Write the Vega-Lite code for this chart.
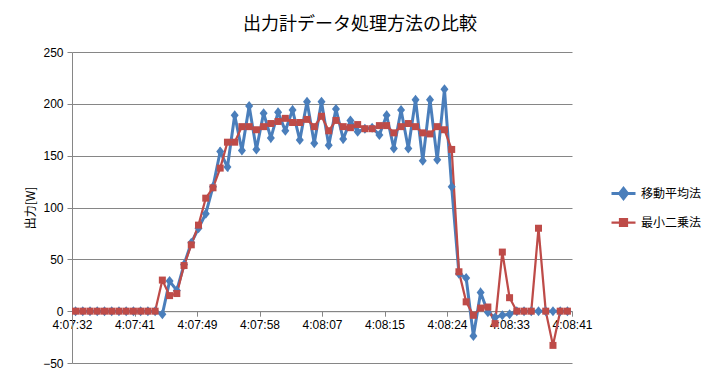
{
  "$schema": "https://vega.github.io/schema/vega-lite/v6.json",
  "width": 500,
  "height": 311,
  "autosize": "none",
  "padding": {"left": 72, "top": 52, "right": 149, "bottom": 17},
  "background": "white",
  "title": {"text": "出力計データ処理方法の比較", "font": "Noto Sans CJK JP", "fontSize": 18, "fontWeight": "normal", "color": "#000000", "anchor": "middle", "dx": 38, "offset": 12},
  "config": {
    "view": {"stroke": null},
    "axis": {"labelFont": "Liberation Sans", "labelFontSize": 12, "labelColor": "#000000", "domainColor": "#868686", "tickColor": "#868686", "gridColor": "#868686", "gridWidth": 1, "domainWidth": 1, "tickWidth": 1}
  },
  "data": {"values": [
    {"t": "2012-01-01T04:07:32.650", "移動平均法": 0, "最小二乗法": 0},
    {"t": "2012-01-01T04:07:33.650", "移動平均法": 0, "最小二乗法": 0},
    {"t": "2012-01-01T04:07:34.650", "移動平均法": 0, "最小二乗法": 0},
    {"t": "2012-01-01T04:07:35.650", "移動平均法": 0, "最小二乗法": 0},
    {"t": "2012-01-01T04:07:36.650", "移動平均法": 0, "最小二乗法": 0},
    {"t": "2012-01-01T04:07:37.650", "移動平均法": 0, "最小二乗法": 0},
    {"t": "2012-01-01T04:07:38.650", "移動平均法": 0, "最小二乗法": 0},
    {"t": "2012-01-01T04:07:39.650", "移動平均法": 0, "最小二乗法": 0},
    {"t": "2012-01-01T04:07:40.650", "移動平均法": 0, "最小二乗法": 0},
    {"t": "2012-01-01T04:07:41.650", "移動平均法": 0, "最小二乗法": 0},
    {"t": "2012-01-01T04:07:42.650", "移動平均法": 0, "最小二乗法": 0},
    {"t": "2012-01-01T04:07:43.650", "移動平均法": 0, "最小二乗法": 0},
    {"t": "2012-01-01T04:07:44.650", "移動平均法": -3, "最小二乗法": 30},
    {"t": "2012-01-01T04:07:45.650", "移動平均法": 29, "最小二乗法": 15},
    {"t": "2012-01-01T04:07:46.650", "移動平均法": 20, "最小二乗法": 17},
    {"t": "2012-01-01T04:07:47.650", "移動平均法": 45, "最小二乗法": 44},
    {"t": "2012-01-01T04:07:48.650", "移動平均法": 66, "最小二乗法": 64},
    {"t": "2012-01-01T04:07:49.650", "移動平均法": 80, "最小二乗法": 83},
    {"t": "2012-01-01T04:07:50.650", "移動平均法": 94, "最小二乗法": 109},
    {"t": "2012-01-01T04:07:51.650", "移動平均法": 120, "最小二乗法": 119},
    {"t": "2012-01-01T04:07:52.650", "移動平均法": 154, "最小二乗法": 138},
    {"t": "2012-01-01T04:07:53.650", "移動平均法": 139, "最小二乗法": 163},
    {"t": "2012-01-01T04:07:54.650", "移動平均法": 189, "最小二乗法": 163},
    {"t": "2012-01-01T04:07:55.650", "移動平均法": 155, "最小二乗法": 178},
    {"t": "2012-01-01T04:07:56.650", "移動平均法": 198, "最小二乗法": 178},
    {"t": "2012-01-01T04:07:57.650", "移動平均法": 156, "最小二乗法": 175},
    {"t": "2012-01-01T04:07:58.650", "移動平均法": 191, "最小二乗法": 178},
    {"t": "2012-01-01T04:07:59.650", "移動平均法": 167, "最小二乗法": 181},
    {"t": "2012-01-01T04:08:00.650", "移動平均法": 192, "最小二乗法": 183},
    {"t": "2012-01-01T04:08:01.650", "移動平均法": 174, "最小二乗法": 186},
    {"t": "2012-01-01T04:08:02.650", "移動平均法": 194, "最小二乗法": 182},
    {"t": "2012-01-01T04:08:03.650", "移動平均法": 165, "最小二乗法": 182},
    {"t": "2012-01-01T04:08:04.650", "移動平均法": 202, "最小二乗法": 185},
    {"t": "2012-01-01T04:08:05.650", "移動平均法": 162, "最小二乗法": 178},
    {"t": "2012-01-01T04:08:06.650", "移動平均法": 202, "最小二乗法": 188},
    {"t": "2012-01-01T04:08:07.650", "移動平均法": 160, "最小二乗法": 174},
    {"t": "2012-01-01T04:08:08.650", "移動平均法": 195, "最小二乗法": 184},
    {"t": "2012-01-01T04:08:09.650", "移動平均法": 166, "最小二乗法": 178},
    {"t": "2012-01-01T04:08:10.650", "移動平均法": 184, "最小二乗法": 177},
    {"t": "2012-01-01T04:08:11.650", "移動平均法": 173, "最小二乗法": 180},
    {"t": "2012-01-01T04:08:12.650", "移動平均法": 176, "最小二乗法": 176},
    {"t": "2012-01-01T04:08:13.650", "移動平均法": 177, "最小二乗法": 176},
    {"t": "2012-01-01T04:08:14.650", "移動平均法": 170, "最小二乗法": 179},
    {"t": "2012-01-01T04:08:15.650", "移動平均法": 189, "最小二乗法": 179},
    {"t": "2012-01-01T04:08:16.650", "移動平均法": 157, "最小二乗法": 172},
    {"t": "2012-01-01T04:08:17.650", "移動平均法": 194, "最小二乗法": 178},
    {"t": "2012-01-01T04:08:18.650", "移動平均法": 157, "最小二乗法": 181},
    {"t": "2012-01-01T04:08:19.650", "移動平均法": 204, "最小二乗法": 178},
    {"t": "2012-01-01T04:08:20.650", "移動平均法": 145, "最小二乗法": 172},
    {"t": "2012-01-01T04:08:21.650", "移動平均法": 204, "最小二乗法": 171},
    {"t": "2012-01-01T04:08:22.650", "移動平均法": 146, "最小二乗法": 178},
    {"t": "2012-01-01T04:08:23.650", "移動平均法": 214, "最小二乗法": 175},
    {"t": "2012-01-01T04:08:24.650", "移動平均法": 120, "最小二乗法": 156},
    {"t": "2012-01-01T04:08:25.650", "移動平均法": 36, "最小二乗法": 38},
    {"t": "2012-01-01T04:08:26.650", "移動平均法": 32, "最小二乗法": 9},
    {"t": "2012-01-01T04:08:27.650", "移動平均法": -24, "最小二乗法": -4},
    {"t": "2012-01-01T04:08:28.650", "移動平均法": 18, "最小二乗法": 3},
    {"t": "2012-01-01T04:08:29.650", "移動平均法": -1, "最小二乗法": 4},
    {"t": "2012-01-01T04:08:30.650", "移動平均法": -6, "最小二乗法": -12},
    {"t": "2012-01-01T04:08:31.650", "移動平均法": -4, "最小二乗法": 57},
    {"t": "2012-01-01T04:08:32.650", "移動平均法": -3, "最小二乗法": 13},
    {"t": "2012-01-01T04:08:33.650", "移動平均法": 0, "最小二乗法": 0},
    {"t": "2012-01-01T04:08:34.650", "移動平均法": 0, "最小二乗法": 0},
    {"t": "2012-01-01T04:08:35.650", "移動平均法": 0, "最小二乗法": 0},
    {"t": "2012-01-01T04:08:36.650", "移動平均法": 0, "最小二乗法": 80},
    {"t": "2012-01-01T04:08:37.650", "移動平均法": 0, "最小二乗法": 0},
    {"t": "2012-01-01T04:08:38.650", "移動平均法": 0, "最小二乗法": -33},
    {"t": "2012-01-01T04:08:39.650", "移動平均法": 0, "最小二乗法": 0},
    {"t": "2012-01-01T04:08:40.650", "移動平均法": 0, "最小二乗法": 0}
  ]},
  "transform": [{"fold": ["移動平均法", "最小二乗法"], "as": ["method", "power"]}],
  "encoding": {
    "x": {
      "field": "t", "type": "temporal", "title": null,
      "scale": {"domain": [
        {"year": 2012, "month": 1, "date": 1, "hours": 4, "minutes": 7, "seconds": 32, "milliseconds": 160},
        {"year": 2012, "month": 1, "date": 1, "hours": 4, "minutes": 8, "seconds": 41, "milliseconds": 280}
      ], "nice": false},
      "axis": {
        "values": [
          {"year": 2012, "month": 1, "date": 1, "hours": 4, "minutes": 7, "seconds": 32, "milliseconds": 160},
          {"year": 2012, "month": 1, "date": 1, "hours": 4, "minutes": 7, "seconds": 40, "milliseconds": 800},
          {"year": 2012, "month": 1, "date": 1, "hours": 4, "minutes": 7, "seconds": 49, "milliseconds": 440},
          {"year": 2012, "month": 1, "date": 1, "hours": 4, "minutes": 7, "seconds": 58, "milliseconds": 80},
          {"year": 2012, "month": 1, "date": 1, "hours": 4, "minutes": 8, "seconds": 6, "milliseconds": 720},
          {"year": 2012, "month": 1, "date": 1, "hours": 4, "minutes": 8, "seconds": 15, "milliseconds": 360},
          {"year": 2012, "month": 1, "date": 1, "hours": 4, "minutes": 8, "seconds": 24, "milliseconds": 0},
          {"year": 2012, "month": 1, "date": 1, "hours": 4, "minutes": 8, "seconds": 32, "milliseconds": 640},
          {"year": 2012, "month": 1, "date": 1, "hours": 4, "minutes": 8, "seconds": 41, "milliseconds": 280}
        ],
        "labelExpr": "timeFormat(time(datum.value) + 500, '%-H:%M:%S')",
        "offset": -51.8, "grid": false, "tickSize": 5, "labelPadding": 3, "labelOverlap": false, "labelFlush": false
      }
    },
    "y": {
      "field": "power", "type": "quantitative", "title": "出力[W]",
      "scale": {"domain": [-50, 250], "nice": false, "zero": false},
      "axis": {"values": [-50, 0, 50, 100, 150, 200, 250], "grid": true, "tickSize": 5, "labelPadding": 4, "titleFont": "Noto Sans CJK JP", "titleFontSize": 12, "titleFontWeight": "normal", "titleColor": "#000000", "titlePadding": 5}
    },
    "color": {
      "field": "method", "type": "nominal",
      "scale": {"domain": ["移動平均法", "最小二乗法"], "range": ["#4A7EBB", "#BE4B48"]},
      "legend": {
        "orient": "none", "legendX": 538, "legendY": 128, "title": null,
        "labelFont": "Noto Sans CJK JP", "labelFontSize": 12, "labelColor": "#000000",
        "symbolSize": 576, "rowPadding": 4, "labelOffset": 4,
        "encode": {"symbols": {"update": {
          "shape": {"signal": "datum.value === '移動平均法' ? 'M-1,0H1M0,-0.42L0.33,0L0,0.42L-0.33,0Z' : 'M-1,0H1M-0.29,-0.29H0.29V0.29H-0.29Z'"},
          "strokeWidth": {"value": 2.5},
          "stroke": {"signal": "datum.value === '移動平均法' ? '#4A7EBB' : '#BE4B48'"},
          "fill": {"signal": "datum.value === '移動平均法' ? '#4A7EBB' : '#BE4B48'"},
          "opacity": {"value": 1}
        }}}
      }
    }
  },
  "layer": [
    {
      "mark": {"type": "line", "interpolate": "linear"},
      "encoding": {
        "strokeWidth": {"field": "method", "type": "nominal", "scale": {"domain": ["移動平均法", "最小二乗法"], "range": [3, 2.25]}, "legend": null}
      }
    },
    {
      "transform": [{"filter": "datum.method === '移動平均法'"}],
      "mark": {"type": "point", "filled": true, "opacity": 1, "shape": "M0,-1.25L1,0L0,1.25L-1,0Z", "size": 64}
    },
    {
      "transform": [{"filter": "datum.method === '最小二乗法'"}],
      "mark": {"type": "point", "filled": true, "opacity": 1, "shape": "square", "size": 49}
    }
  ]
}
